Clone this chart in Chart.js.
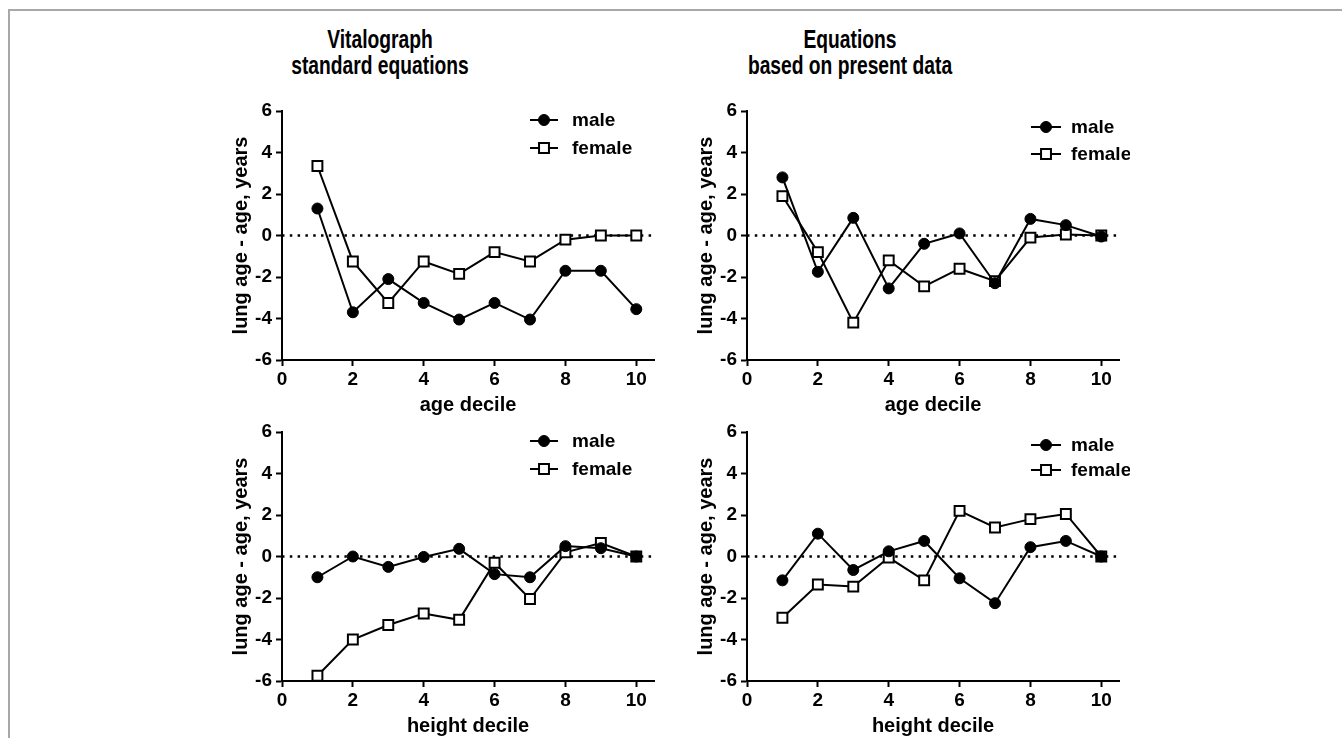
<!DOCTYPE html>
<html>
<head>
<meta charset="utf-8">
<script src="https://cdn.jsdelivr.net/npm/chart.js@4/dist/chart.umd.min.js"></script>
<style>
  body { margin: 0; background: #fff; width: 1342px; height: 738px; overflow: hidden; position: relative; }
  .frame { position: absolute; left: 8px; top: 9px; width: 1400px; height: 800px;
    border-top: 2px solid #a8a8a8; border-left: 2px solid #a8a8a8; }
  .title { position: absolute; width: 400px; text-align: center; top: 26px;
    font: bold 26px 'Liberation Sans', Arial, sans-serif; line-height: 26px; color: #000;
    transform: scaleX(0.74); transform-origin: 50% 0; }
  .panel { position: absolute; width: 440px; height: 325px; }
</style>
</head>
<body>
<div class="frame"></div>
<div class="title" style="left:180px">Vitalograph<br>standard equations</div>
<div class="title" style="left:650px">Equations<br>based on present data</div>
<div class="panel" style="left:225px;top:93px"><canvas id="c1"></canvas></div>
<div class="panel" style="left:690px;top:93px"><canvas id="c2"></canvas></div>
<div class="panel" style="left:225px;top:414px"><canvas id="c3"></canvas></div>
<div class="panel" style="left:690px;top:414px"><canvas id="c4"></canvas></div>
<script>
const deciles = [1, 2, 3, 4, 5, 6, 7, 8, 9, 10];

// age decile
const vitaloAgeMale = [1.3, -3.7, -2.1, -3.25, -4.05, -3.25, -4.05, -1.7, -1.7, -3.55];
const vitaloAgeFemale = [3.35, -1.25, -3.25, -1.25, -1.85, -0.8, -1.25, -0.2, 0, 0];
const presentAgeMale = [2.8, -1.75, 0.85, -2.55, -0.4, 0.1, -2.3, 0.8, 0.5, -0.05];
const presentAgeFemale = [1.9, -0.8, -4.2, -1.2, -2.45, -1.6, -2.2, -0.1, 0.05, 0];

// height decile
const vitaloHeightMale = [-1.0, 0, -0.5, -0.02, 0.37, -0.85, -1.0, 0.5, 0.4, 0];
const vitaloHeightFemale = [-5.75, -4.0, -3.3, -2.75, -3.05, -0.3, -2.05, 0.2, 0.65, 0];
const presentHeightMale = [-1.15, 1.1, -0.65, 0.25, 0.75, -1.05, -2.25, 0.45, 0.75, 0];
const presentHeightFemale = [-2.95, -1.35, -1.45, -0.05, -1.15, 2.2, 1.4, 1.8, 2.05, 0];

const yTicks = [-6, -4, -2, 0, 2, 4, 6];
const xTicks = [0, 2, 4, 6, 8, 10];
const xMax = 10.5;

const fontFamily = "'Liberation Sans', Arial, Helvetica, sans-serif";

function toPoints(values) {
  return values.map((v, i) => ({ x: deciles[i], y: v }));
}

// legend: short line with the marker in the middle, label to the right
const sexLegend = {
  id: 'sexLegend',
  afterDraw(chart, args, opts) {
    const { ctx, chartArea } = chart;
    const items = chart.data.datasets.filter((d) => d.label);
    ctx.save();
    items.forEach((ds, i) => {
      const y = chartArea.top + opts.y + i * opts.spacing;
      const x0 = chartArea.left + opts.x;
      const x1 = x0 + opts.lineLen;
      const cx = (x0 + x1) / 2;
      ctx.strokeStyle = '#000';
      ctx.lineWidth = 2;
      ctx.beginPath();
      ctx.moveTo(x0, y);
      ctx.lineTo(x1, y);
      ctx.stroke();
      ctx.fillStyle = ds.pointBackgroundColor;
      ctx.lineWidth = ds.pointBorderWidth;
      ctx.beginPath();
      if (ds.pointStyle === 'rect') {
        const s = Math.SQRT1_2 * ds.pointRadius;
        ctx.rect(cx - s, y - s, 2 * s, 2 * s);
      } else {
        ctx.arc(cx, y, ds.pointRadius, 0, Math.PI * 2);
      }
      ctx.fill();
      ctx.stroke();
      ctx.fillStyle = '#000';
      ctx.font = `bold 19px ${fontFamily}`;
      ctx.textBaseline = 'middle';
      ctx.textAlign = 'left';
      ctx.fillText(ds.label, x1 + opts.textGap, y + 1);
    });
    ctx.restore();
  },
};

function makeChart(id, male, female, xTitle, legendPos) {
  const data = {
    datasets: [
      {
        label: 'male',
        data: toPoints(male),
        borderColor: '#000',
        borderWidth: 2,
        pointStyle: 'circle',
        pointRadius: 5.5,
        pointBorderWidth: 1,
        pointBackgroundColor: '#000',
        pointBorderColor: '#000',
        clip: false,
      },
      {
        label: 'female',
        data: toPoints(female),
        borderColor: '#000',
        borderWidth: 2,
        pointStyle: 'rect',
        pointRadius: 7,
        pointBorderWidth: 2,
        pointBackgroundColor: '#fff',
        pointBorderColor: '#000',
        clip: false,
      },
      {
        label: '',
        data: [{ x: 0, y: 0 }, { x: xMax, y: 0 }],
        borderColor: '#000',
        borderWidth: 2.5,
        borderDash: [2.5, 5.3],
        pointRadius: 0,
        clip: false,
      },
    ],
  };

  const tickFont = { size: 19, weight: 'bold', family: fontFamily };

  return new Chart(document.getElementById(id), {
    type: 'line',
    data,
    options: {
      animation: false,
      responsive: true,
      maintainAspectRatio: false,
      layout: { padding: { top: 18, right: 11, bottom: 0, left: 0 } },
      plugins: {
        legend: { display: false },
        tooltip: { enabled: false },
        sexLegend: legendPos,
      },
      scales: {
        x: {
          type: 'linear',
          min: 0,
          max: xMax,
          afterBuildTicks: (scale) => {
            scale.ticks = xTicks.map((v) => ({ value: v }));
          },
          afterFit: (scale) => { scale.height = 58; },
          border: { display: true, color: '#000', width: 2 },
          grid: {
            drawOnChartArea: false, drawTicks: true, tickLength: 6, tickColor: '#000', tickWidth: 2,
          },
          ticks: { color: '#000', font: tickFont, padding: 2, maxRotation: 0 },
          title: {
            display: true,
            text: xTitle,
            color: '#000',
            font: { size: 20, weight: 'bold', family: fontFamily },
            padding: { top: 0, bottom: 1 },
          },
        },
        y: {
          min: -6,
          max: 6,
          afterBuildTicks: (scale) => {
            scale.ticks = yTicks.map((v) => ({ value: v }));
          },
          afterFit: (scale) => { scale.width = 57; },
          border: { display: true, color: '#000', width: 2 },
          grid: {
            drawOnChartArea: false, drawTicks: true, tickLength: 6, tickColor: '#000', tickWidth: 2,
          },
          ticks: { color: '#000', font: tickFont, padding: 4 },
          title: {
            display: true,
            text: 'lung age - age, years',
            color: '#000',
            font: { size: 20, weight: 'bold', family: fontFamily },
            padding: { top: 4, bottom: 0 },
          },
        },
      },
    },
    plugins: [sexLegend],
  });
}

makeChart('c1', vitaloAgeMale, vitaloAgeFemale, 'age decile',
  { x: 248, y: 9, spacing: 28, lineLen: 28, textGap: 14 });
makeChart('c2', presentAgeMale, presentAgeFemale, 'age decile',
  { x: 284, y: 16, spacing: 27, lineLen: 30, textGap: 10 });
makeChart('c3', vitaloHeightMale, vitaloHeightFemale, 'height decile',
  { x: 248, y: 9, spacing: 28, lineLen: 28, textGap: 14 });
makeChart('c4', presentHeightMale, presentHeightFemale, 'height decile',
  { x: 284, y: 13, spacing: 25, lineLen: 30, textGap: 10 });
</script>
</body>
</html>
